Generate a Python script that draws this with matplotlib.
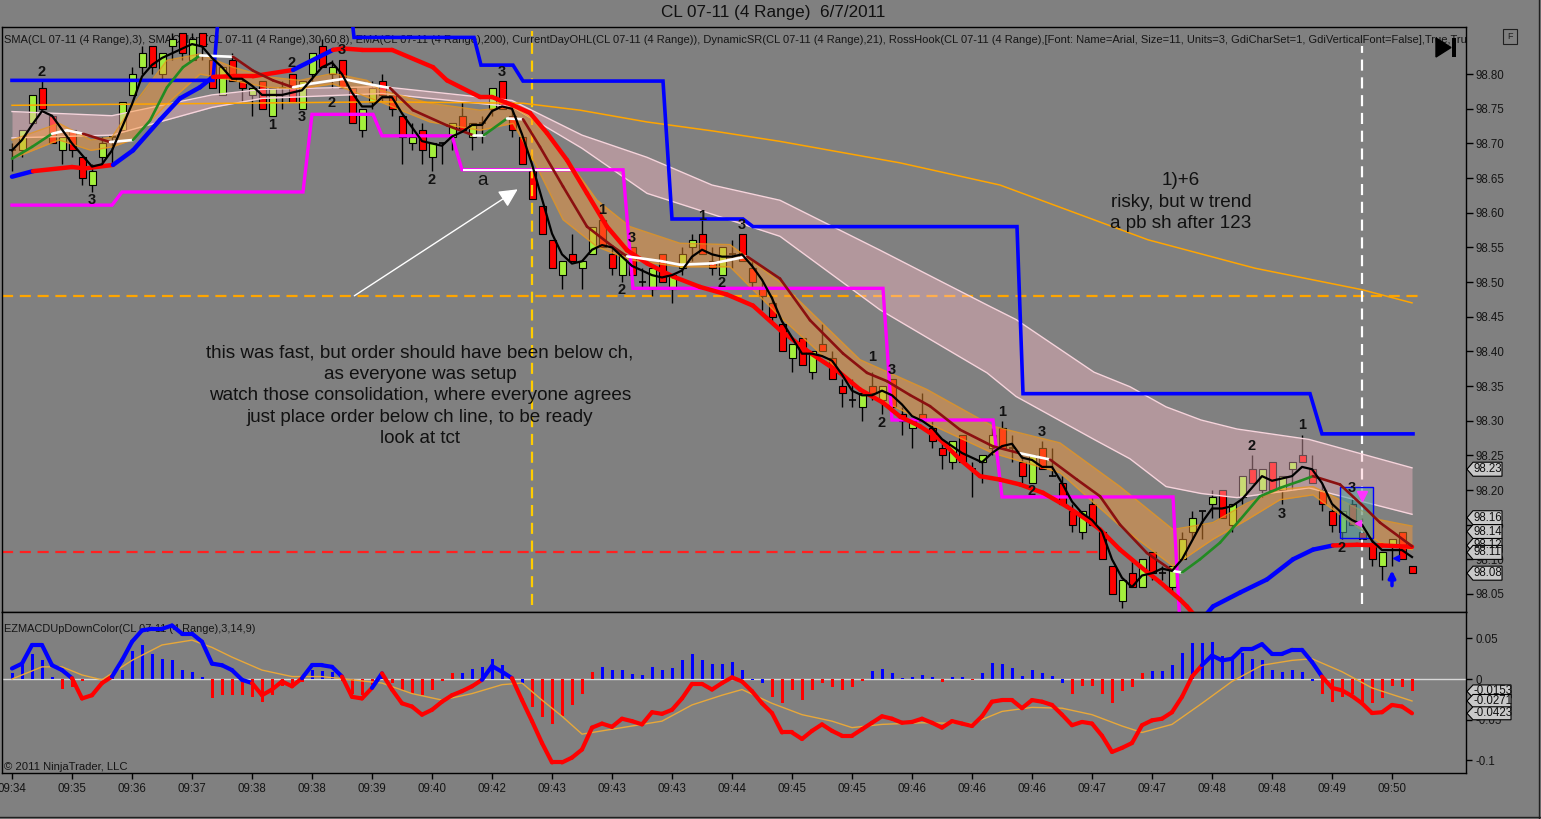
import numpy as np
import pandas as pd
import matplotlib
matplotlib.use("Agg")
import matplotlib.pyplot as plt
import matplotlib.transforms as mtransforms
from matplotlib.collections import LineCollection
from matplotlib.patches import Polygon, Rectangle
from matplotlib.lines import Line2D

plt.rcParams['font.family'] = ['Liberation Sans', 'DejaVu Sans']

# ---- price bars (4 range) ----
opens = [98.69, 98.69, 98.73, 98.78, 98.74, 98.69, 98.72, 98.68, 98.64, 98.68,
         98.71, 98.72, 98.77, 98.81, 98.84, 98.80, 98.84, 98.86, 98.82, 98.86,
         98.82, 98.77, 98.82, 98.79, 98.77, 98.79, 98.74, 98.78, 98.80, 98.75,
         98.80, 98.84, 98.80, 98.82, 98.78, 98.72, 98.76, 98.79, 98.77, 98.74,
         98.70, 98.72, 98.68, 98.70, 98.71, 98.74, 98.71, 98.73, 98.75, 98.79,
         98.74, 98.71, 98.66, 98.61, 98.56, 98.51, 98.54, 98.52, 98.54, 98.59,
         98.54, 98.51, 98.55, 98.50, 98.49, 98.54, 98.49, 98.52, 98.55, 98.57,
         98.53, 98.51, 98.54, 98.57, 98.52, 98.49, 98.47, 98.44, 98.39, 98.42,
         98.37, 98.41, 98.39, 98.35, 98.33, 98.32, 98.35, 98.33, 98.36, 98.31,
         98.29, 98.31, 98.29, 98.26, 98.24, 98.28, 98.23, 98.24, 98.26, 98.29,
         98.26, 98.24, 98.21, 98.26, 98.22, 98.21, 98.17, 98.14, 98.18, 98.14,
         98.09, 98.04, 98.08, 98.06, 98.11, 98.08, 98.06, 98.10, 98.14, 98.17,
         98.18, 98.20, 98.15, 98.19, 98.23, 98.20, 98.24, 98.20, 98.23, 98.25,
         98.23, 98.20, 98.17, 98.14, 98.18, 98.14, 98.12, 98.09, 98.12, 98.14,
         98.09]
closes = [98.69, 98.72, 98.77, 98.75, 98.70, 98.71, 98.69, 98.65, 98.66, 98.70,
          98.71, 98.76, 98.80, 98.83, 98.81, 98.83, 98.85, 98.83, 98.85, 98.84,
          98.78, 98.81, 98.79, 98.78, 98.78, 98.75, 98.78, 98.78, 98.76, 98.79,
          98.83, 98.81, 98.81, 98.78, 98.73, 98.75, 98.78, 98.77, 98.75, 98.71,
          98.71, 98.69, 98.70, 98.70, 98.73, 98.72, 98.73, 98.73, 98.78, 98.75,
          98.72, 98.67, 98.62, 98.57, 98.52, 98.53, 98.53, 98.53, 98.58, 98.55,
          98.52, 98.54, 98.51, 98.50, 98.52, 98.50, 98.51, 98.54, 98.56, 98.54,
          98.52, 98.55, 98.54, 98.53, 98.50, 98.48, 98.45, 98.40, 98.41, 98.38,
          98.40, 98.40, 98.36, 98.34, 98.33, 98.34, 98.34, 98.35, 98.32, 98.30,
          98.30, 98.30, 98.27, 98.25, 98.27, 98.24, 98.23, 98.25, 98.28, 98.26,
          98.26, 98.22, 98.25, 98.23, 98.22, 98.18, 98.15, 98.17, 98.15, 98.10,
          98.05, 98.07, 98.06, 98.10, 98.08, 98.08, 98.09, 98.13, 98.16, 98.17,
          98.19, 98.16, 98.18, 98.22, 98.21, 98.23, 98.20, 98.22, 98.24, 98.24,
          98.21, 98.18, 98.15, 98.17, 98.15, 98.13, 98.10, 98.11, 98.13, 98.10,
          98.08]
highs = [98.70, 98.72, 98.77, 98.79, 98.74, 98.71, 98.72, 98.68, 98.67, 98.71,
         98.71, 98.76, 98.81, 98.84, 98.84, 98.83, 98.86, 98.86, 98.86, 98.86,
         98.82, 98.81, 98.83, 98.80, 98.78, 98.79, 98.78, 98.79, 98.80, 98.79,
         98.83, 98.85, 98.82, 98.82, 98.78, 98.75, 98.79, 98.80, 98.78, 98.74,
         98.73, 98.73, 98.70, 98.70, 98.73, 98.76, 98.73, 98.74, 98.78, 98.79,
         98.75, 98.71, 98.66, 98.61, 98.56, 98.53, 98.57, 98.53, 98.58, 98.59,
         98.55, 98.54, 98.55, 98.52, 98.52, 98.54, 98.51, 98.55, 98.57, 98.59,
         98.55, 98.55, 98.56, 98.57, 98.53, 98.50, 98.48, 98.44, 98.41, 98.42,
         98.40, 98.44, 98.40, 98.36, 98.36, 98.34, 98.37, 98.35, 98.36, 98.32,
         98.30, 98.34, 98.30, 98.27, 98.27, 98.28, 98.24, 98.25, 98.29, 98.30,
         98.28, 98.25, 98.25, 98.27, 98.26, 98.22, 98.18, 98.17, 98.19, 98.14,
         98.09, 98.07, 98.10, 98.10, 98.11, 98.09, 98.09, 98.14, 98.17, 98.17,
         98.20, 98.20, 98.18, 98.22, 98.25, 98.23, 98.24, 98.22, 98.24, 98.28,
         98.25, 98.21, 98.18, 98.17, 98.19, 98.16, 98.13, 98.11, 98.13, 98.14,
         98.09]
lows = [98.66, 98.68, 98.73, 98.75, 98.70, 98.67, 98.68, 98.64, 98.63, 98.67,
        98.67, 98.72, 98.77, 98.80, 98.80, 98.79, 98.82, 98.82, 98.82, 98.82,
        98.78, 98.77, 98.79, 98.76, 98.74, 98.75, 98.74, 98.75, 98.76, 98.75,
        98.79, 98.81, 98.78, 98.78, 98.73, 98.71, 98.75, 98.76, 98.74, 98.67,
        98.69, 98.67, 98.66, 98.67, 98.69, 98.72, 98.69, 98.70, 98.74, 98.75,
        98.71, 98.67, 98.62, 98.57, 98.52, 98.49, 98.53, 98.49, 98.54, 98.55,
        98.51, 98.50, 98.51, 98.49, 98.48, 98.50, 98.47, 98.51, 98.53, 98.54,
        98.51, 98.51, 98.52, 98.53, 98.49, 98.46, 98.44, 98.40, 98.37, 98.38,
        98.36, 98.40, 98.36, 98.32, 98.32, 98.30, 98.33, 98.31, 98.32, 98.28,
        98.26, 98.30, 98.26, 98.23, 98.23, 98.24, 98.19, 98.21, 98.25, 98.26,
        98.24, 98.21, 98.21, 98.23, 98.22, 98.18, 98.14, 98.13, 98.15, 98.10,
        98.05, 98.03, 98.06, 98.06, 98.07, 98.07, 98.05, 98.10, 98.13, 98.13,
        98.16, 98.16, 98.14, 98.18, 98.21, 98.19, 98.20, 98.18, 98.20, 98.24,
        98.21, 98.17, 98.14, 98.13, 98.15, 98.12, 98.09, 98.07, 98.09, 98.10,
        98.08]

tick_labels = ['09:34', '09:35', '09:36', '09:37', '09:38', '09:38', '09:39', '09:40',
               '09:42', '09:43', '09:43', '09:43', '09:44', '09:45', '09:45', '09:46',
               '09:46', '09:46', '09:47', '09:47', '09:48', '09:48', '09:49', '09:50']

# ---- indicators (bar index, price) ----
thick_bars = [0, 2.1, 6, 7.3, 10.1, 12.1, 14.8, 16.8, 18.8, 20.1, 22.1, 24.1, 28.1, 32.1, 33.1,
              35, 38, 42.1, 43.5, 46.8, 48, 50.1, 51.8, 53.5, 55.5, 57.5, 59.5, 61.5, 63.5, 66.1,
              68.8, 71.5, 74.1, 76.8, 79.8, 82.8, 84.8, 87.1, 88.8, 90.8, 92.8, 94.8, 96.8, 98.8,
              100.8, 103.1, 105.5, 107.5, 108.8, 110.8, 112.8, 114.8, 116.8, 117.5, 118.8, 120.1,
              122.8, 125.5, 128.1, 130.1, 132.1, 134.5, 137, 140]
thick_vals = [98.652, 98.660, 98.666, 98.664, 98.669, 98.690, 98.734, 98.765, 98.781, 98.796,
              98.797, 98.797, 98.806, 98.835, 98.837, 98.835, 98.835, 98.810, 98.791, 98.767,
              98.767, 98.755, 98.744, 98.715, 98.676, 98.628, 98.580, 98.546, 98.527, 98.508,
              98.493, 98.482, 98.466, 98.431, 98.398, 98.369, 98.345, 98.326, 98.306, 98.292,
              98.273, 98.244, 98.220, 98.215, 98.208, 98.196, 98.176, 98.157, 98.143, 98.114,
              98.090, 98.067, 98.042, 98.032, 98.010, 98.032, 98.052, 98.071, 98.100, 98.114,
              98.120, 98.121, 98.120, 98.118]

mg_bars = [0, 2, 4, 5.5, 7.1, 9.8, 12.1, 13.8, 15.5, 17.1, 18.8, 22.1, 24.1, 26.1, 28.1, 29.8,
           32.1, 33.1, 35.5, 37.8, 40.1, 43.5, 46.1, 47.2, 49.5, 51.1, 52.8, 55.1, 57.5, 60.1,
           61.5, 65, 66.8, 70.1, 73.5, 76.8, 79.8, 83.1, 85.5, 87.5, 89.8, 91.8, 94.8, 98.1,
           100.8, 103.8, 106.5, 108.8, 110.8, 113.5, 116.1, 117, 118.8, 120.8, 122.8, 124.8,
           126.8, 128.8, 130.1, 132.8, 135.1, 136.8, 140]
mg_vals = [98.678, 98.695, 98.714, 98.719, 98.714, 98.702, 98.705, 98.733, 98.781, 98.810,
           98.827, 98.825, 98.805, 98.791, 98.781, 98.786, 98.791, 98.793, 98.786, 98.780,
           98.748, 98.726, 98.712, 98.712, 98.736, 98.735, 98.695, 98.638, 98.580, 98.551,
           98.537, 98.530, 98.525, 98.527, 98.537, 98.505, 98.445, 98.397, 98.369, 98.357,
           98.337, 98.321, 98.287, 98.263, 98.253, 98.244, 98.215, 98.191, 98.150, 98.109,
           98.083, 98.081, 98.100, 98.124, 98.157, 98.191, 98.203, 98.213, 98.220, 98.208,
           98.177, 98.153, 98.119]

orange_bars = [0, 4.7, 7.9, 10, 12, 15.5, 18.8, 22.1, 25.5, 28.8, 32.1, 35.5, 36.8, 41.8, 46.8,
               50.1, 51.8, 55.1, 58.5, 61.8, 66.8, 71.8, 76.8, 84.8, 91.5, 98.1, 104.8, 110.8,
               116.1, 120.1, 123.5, 126.8, 130.1, 133.5, 136.8, 140]
orange_top = [98.705, 98.729, 98.705, 98.709, 98.753, 98.820, 98.829, 98.810, 98.796, 98.791,
              98.801, 98.791, 98.777, 98.758, 98.748, 98.753, 98.738, 98.686, 98.618, 98.580,
              98.556, 98.554, 98.500, 98.388, 98.345, 98.292, 98.268, 98.205, 98.143, 98.153,
              98.181, 98.201, 98.205, 98.181, 98.157, 98.148]
orange_bot = [98.678, 98.705, 98.690, 98.695, 98.705, 98.757, 98.800, 98.791, 98.781, 98.779,
              98.786, 98.767, 98.760, 98.731, 98.719, 98.729, 98.686, 98.590, 98.551, 98.532,
              98.522, 98.522, 98.450, 98.345, 98.297, 98.253, 98.225, 98.148, 98.090, 98.129,
              98.157, 98.186, 98.193, 98.157, 98.124, 98.114]

pink_bars = [0, 10, 20, 25, 37, 50, 57, 63.5, 70, 76.8, 86.8, 97.5, 100.4, 108.2, 111.8, 115.4,
             118.9, 122.5, 129.7, 140]
pink_top = [98.746, 98.740, 98.770, 98.778, 98.782, 98.762, 98.712, 98.680, 98.640, 98.618,
            98.546, 98.467, 98.446, 98.370, 98.349, 98.320, 98.301, 98.288, 98.273, 98.232]
pink_bot = [98.708, 98.712, 98.752, 98.765, 98.772, 98.753, 98.693, 98.628, 98.598, 98.566,
            98.460, 98.369, 98.335, 98.273, 98.245, 98.205, 98.195, 98.189, 98.203, 98.165]

ema_bars = [0, 36.8, 51.1, 56.8, 63.5, 70.1, 76.8, 88.8, 98.8, 113.6, 124.3, 135, 140]
ema_vals = [98.755, 98.760, 98.758, 98.748, 98.731, 98.718, 98.703, 98.672, 98.640, 98.561,
            98.520, 98.489, 98.470]

res_bars = [0, 20.1, 21.0, 33.5, 34.2, 46.2, 46.9, 50.1, 51.1, 65.1, 66.0, 73.1, 74.1, 100.5,
            101.1, 129.8, 131.0, 140.1]
res_vals = [98.791, 98.791, 98.95, 98.95, 98.853, 98.853, 98.813, 98.813, 98.790, 98.790,
            98.591, 98.591, 98.580, 98.580, 98.339, 98.339, 98.281, 98.281]

sup_bars = [0, 10, 11, 29.1, 30, 36.1, 37, 44, 45, 61.1, 62.1, 87.1, 88, 98.1, 99, 116.1, 117]
sup_vals = [98.611, 98.611, 98.630, 98.630, 98.742, 98.742, 98.711, 98.711, 98.662, 98.662,
            98.491, 98.491, 98.301, 98.301, 98.190, 98.190, 97.95]

day_open = 98.48
day_low = 98.11

hook_text = ['2', '3', '1', '2', '3', '2', '3', '2', '3', '1', '3', '2', '1', '3', '2',
             '1', '3', '2', '1', '3', '2', '2', '1', '3', '3', '2']
hook_bars = [3, 8, 26, 28, 29, 32, 33, 42, 49, 59, 62, 61, 69, 73, 71, 86, 88, 87, 99, 103, 102,
             124, 129, 127, 134, 133]
hook_prices = [98.803, 98.618, 98.727, 98.816, 98.738, 98.758, 98.835, 98.647, 98.803, 98.604,
               98.564, 98.489, 98.595, 98.582, 98.499, 98.392, 98.373, 98.297, 98.313, 98.284,
               98.198, 98.264, 98.294, 98.166, 98.203, 98.116]

price_tags = [98.23, 98.16, 98.14, 98.12, 98.11, 98.08]

# ---- MACD panel ----
macd = [0.013, 0.019, 0.042, 0.042, 0.017, 0.011, 0.001, -0.024, -0.020, -0.005,
        0.003, 0.023, 0.046, 0.060, 0.062, 0.062, 0.066, 0.056, 0.056, 0.046,
        0.019, 0.017, 0.011, -0.001, -0.005, -0.020, -0.013, -0.003, -0.009, 0.001,
        0.017, 0.017, 0.015, 0.003, -0.022, -0.024, -0.011, 0.007, -0.013, -0.030,
        -0.034, -0.044, -0.038, -0.028, -0.020, -0.015, -0.009, -0.001, 0.016, 0.009,
        0.001, -0.026, -0.052, -0.079, -0.103, -0.103, -0.097, -0.087, -0.060, -0.055,
        -0.059, -0.049, -0.052, -0.056, -0.041, -0.043, -0.038, -0.024, -0.006, -0.006,
        -0.013, -0.005, 0.002, -0.003, -0.015, -0.030, -0.042, -0.066, -0.066, -0.074,
        -0.064, -0.056, -0.064, -0.070, -0.070, -0.062, -0.054, -0.046, -0.049, -0.054,
        -0.053, -0.049, -0.054, -0.060, -0.052, -0.055, -0.058, -0.046, -0.028, -0.026,
        -0.026, -0.036, -0.026, -0.028, -0.032, -0.044, -0.057, -0.053, -0.055, -0.070,
        -0.090, -0.085, -0.079, -0.057, -0.051, -0.049, -0.041, -0.022, 0.003, 0.017,
        0.029, 0.023, 0.025, 0.037, 0.037, 0.043, 0.031, 0.031, 0.036, 0.036,
        0.021, 0.003, -0.011, -0.014, -0.021, -0.030, -0.042, -0.041, -0.032, -0.034,
        -0.0423]
macd_up_spans = [(0, 6), (10, 24), (29, 33), (36, 37), (47, 50), (119, 131)]

signal_bars = [0, 3, 5, 7, 9, 12, 15, 18, 20, 22, 25, 28, 31, 34, 37, 40, 43, 46, 49, 51, 53,
               55, 57, 59, 62, 65, 68, 71, 73, 76, 79, 82, 84, 87, 91, 96, 99, 102, 105, 108,
               111, 113, 116, 119, 122, 125, 128, 130, 133, 136, 140]
signal_vals = [0.0, 0.015, 0.015, 0.005, -0.001, 0.023, 0.042, 0.048, 0.039, 0.027, 0.011,
               0.003, 0.003, -0.001, -0.005, -0.018, -0.026, -0.018, -0.007, -0.005, -0.026,
               -0.046, -0.068, -0.064, -0.058, -0.052, -0.032, -0.020, -0.013, -0.030, -0.044,
               -0.052, -0.060, -0.056, -0.054, -0.055, -0.040, -0.035, -0.036, -0.044, -0.058,
               -0.066, -0.056, -0.030, -0.003, 0.017, 0.023, 0.025, 0.009, -0.011, -0.0271]

hist = [0.008, 0.017, 0.031, 0.024, 0.003, -0.012, -0.010, -0.003, 0.0, 0.0,
        0.002, 0.011, 0.035, 0.042, 0.031, 0.025, 0.023, 0.011, 0.009, 0.002,
        -0.024, -0.020, -0.020, -0.020, -0.022, -0.028, -0.020, -0.009, -0.009, -0.004,
        0.011, 0.010, 0.009, -0.002, -0.018, -0.020, -0.008, 0.009, -0.005, -0.013,
        -0.018, -0.020, -0.013, -0.003, 0.008, 0.008, 0.012, 0.015, 0.025, 0.017,
        0.002, -0.005, -0.034, -0.047, -0.056, -0.046, -0.032, -0.018, 0.009, 0.015,
        0.011, 0.011, 0.006, 0.005, 0.015, 0.011, 0.013, 0.023, 0.031, 0.024,
        0.019, 0.018, 0.021, 0.011, -0.001, -0.005, -0.022, -0.030, -0.013, -0.026,
        -0.014, -0.005, -0.010, -0.013, -0.010, -0.002, 0.010, 0.012, 0.007, 0.001,
        0.002, 0.005, 0.002, -0.004, 0.002, 0.002, -0.001, 0.007, 0.020, 0.018,
        0.014, 0.004, 0.011, 0.007, 0.004, -0.005, -0.018, -0.009, -0.009, -0.018,
        -0.030, -0.015, -0.010, 0.008, 0.010, 0.010, 0.017, 0.032, 0.044, 0.044,
        0.046, 0.029, 0.025, 0.032, 0.025, 0.024, 0.011, 0.009, 0.011, 0.009,
        -0.003, -0.018, -0.028, -0.022, -0.018, -0.028, -0.030, -0.024, -0.009, -0.010,
        -0.0153]
hist_red_above = [44, 58, 113]
hist_blue_below = [51, 74, 75, 105, 130]
macd_tags = [-0.0153, -0.0271, -0.0423]

W, H = 1541, 819
BG = '#808080'
GREEN = '#a4f03c'
BLUE = '#0000ff'
RED = '#ff0000'


def colored_line(ax, xs, ys, colors, lw, z):
    pts = np.column_stack([xs, ys])
    segs = np.stack([pts[:-1], pts[1:]], axis=1)
    lc = LineCollection(segs, colors=colors, linewidths=lw, zorder=z,
                        capstyle='round', joinstyle='round')
    ax.add_collection(lc)


def value_tag(ax, val, text, h, w_px, ax_w=1464):
    tr = mtransforms.blended_transform_factory(ax.transAxes, ax.transData)
    x0, x1, x2 = 1 + 1 / ax_w, 1 + 7 / ax_w, 1 + w_px / ax_w
    poly = Polygon([(x0, val), (x1, val + h / 2), (x2, val + h / 2), (x2, val - h / 2),
                    (x1, val - h / 2)], closed=True, transform=tr, facecolor='#c8c8c8',
                   edgecolor='black', lw=0.8, clip_on=False, zorder=10)
    ax.add_artist(poly)
    ax.text(1 + 8 / ax_w, val, text, transform=tr, fontsize=8.3, va='center', ha='left',
            color='#101010', clip_on=False, zorder=11)


fig = plt.figure(figsize=(W / 100, H / 100), dpi=100, facecolor=BG)
ax = fig.add_axes([2 / W, (H - 612) / H, 1464 / W, 585 / H], facecolor=BG)
ax2 = fig.add_axes([2 / W, (H - 773) / H, 1464 / W, 161 / H], facecolor=BG)

x = np.arange(len(closes))
o = np.array(opens)
c = np.array(closes)
hi = np.array(highs)
lo = np.array(lows)
flat = np.isclose(o, c)
up = (c > o) & ~flat
dn = (c < o) & ~flat

# candles
ax.vlines(x, lo, hi, color='black', lw=1, zorder=2)
ax.bar(x[up], (c - o)[up], bottom=o[up], width=0.7, color=GREEN, edgecolor='black',
       lw=0.8, zorder=2.1)
ax.bar(x[dn], (o - c)[dn], bottom=c[dn], width=0.7, color=RED, edgecolor='black',
       lw=0.8, zorder=2.1)
ax.hlines(c[flat], x[flat] - 0.35, x[flat] + 0.35, color='black', lw=1.2, zorder=2.1)

# day open / low, vertical markers
ax.hlines(day_open, -1, 140.6, colors='#ffa500', linestyles=(0, (5, 3)), lw=1.6, zorder=1.5)
ax.hlines(day_low, -1, 108.6, colors='#ff2020', linestyles=(0, (5, 3)), lw=1.6, zorder=1.5)
ax.vlines(52, 98.034, 98.862, colors='#ffcc00', linestyles=(0, (5, 3)), lw=1.6, zorder=2.3)
ax.vlines(135, 98.035, 98.84, colors='white', linestyles=(0, (5, 3)), lw=1.6, zorder=2.3)

# bands
ax.fill_between(pink_bars, pink_bot, pink_top, color='#ffbcc8', alpha=0.4, lw=0, zorder=2.5)
ax.plot(pink_bars, pink_top, color='#f6d4dc', lw=1, zorder=2.6)
ax.plot(pink_bars, pink_bot, color='#f6d4dc', lw=1, zorder=2.6)
ax.fill_between(orange_bars, orange_bot, orange_top, color='#ff9933', alpha=0.45, lw=0,
                zorder=2.7)
ax.plot(orange_bars, orange_top, color='#e8961e', lw=1, alpha=0.8, zorder=2.8)
ax.plot(orange_bars, orange_bot, color='#e8961e', lw=1, alpha=0.8, zorder=2.8)
ax.plot(ema_bars, ema_vals, color='#ffa500', lw=1.1, zorder=2.9)

# support / resistance steps
ax.plot(res_bars, res_vals, color=BLUE, lw=2.6, zorder=3.2, solid_joinstyle='miter')
ax.plot(sup_bars, sup_vals, color='#ff00ff', lw=2.4, zorder=3.1, solid_joinstyle='miter')
ax.hlines(98.662, 45.1, 56, colors='white', lw=1.5, zorder=3.15)

# coloured moving averages
tb = np.array(thick_bars)
tv = np.array(thick_vals)
slope = np.diff(tv) / np.diff(tb)
colored_line(ax, tb, tv, [BLUE if s > 0.0025 else RED for s in slope], 3.2, 3.4)

mb = np.array(mg_bars)
mv = np.array(mg_vals)
slope = np.diff(mv) / np.diff(mb)
mcol = ['#228b22' if s > 0.0035 else ('#8b1010' if s < -0.0035 else 'white') for s in slope]
colored_line(ax, mb, mv, mcol, 1.9, 3.5)

sma3 = pd.Series(closes).rolling(3, min_periods=1).mean()
ax.plot(x, sma3, color='black', lw=1.6, zorder=3.6)

# RossHook labels
for t, b, p in zip(hook_text, hook_bars, hook_prices):
    ax.text(b, p, t, fontsize=10.5, fontweight='bold', color='#111111', ha='center',
            va='center', zorder=4)
ax.text(47, 98.647, 'a', fontsize=13.5, color='#111111', ha='center', va='center', zorder=4)

# annotation arrow
ax.annotate('', xy=(50.8, 98.636), xytext=(34, 98.478),
            arrowprops=dict(arrowstyle='-|>', color='white', lw=1, mutation_scale=28),
            zorder=4)

# boxes / markers near the end
ax.add_patch(Rectangle((132.8, 98.131), 3.3, 0.074, facecolor=(0.3, 0.62, 0.62, 0.55),
                       edgecolor=BLUE, lw=1, zorder=3.3))
ax.plot([135], [98.192], marker='v', color='#ff33ff', ms=7, zorder=4)
ax.plot([134.6], [98.152], marker='<', color='#ff33ff', ms=4, zorder=4)
ax.annotate('', xy=(138, 98.088), xytext=(138, 98.058),
            arrowprops=dict(arrowstyle='-|>', color=BLUE, lw=2.5, mutation_scale=10), zorder=4)
ax.plot([138.4], [98.102], marker='<', color=BLUE, ms=5, zorder=4)

# comment texts
ax.text(40.8, 98.336, 'this was fast, but order should have been below ch,\n'
        'as everyone was setup\nwatch those consolidation, where everyone agrees\n'
        'just place order below ch line, to be ready\nlook at tct',
        fontsize=13.6, color='#111111', ha='center', va='center', linespacing=1.34, zorder=4)
ax.text(116.9, 98.615, '1)+6\nrisky, but w trend\na pb sh after 123', fontsize=13.6,
        color='#111111', ha='center', va='center', linespacing=1.34, zorder=4)

ax.text(2 / 1464, 1 - 13 / 585,
        'SMA(CL 07-11 (4 Range),3), SMAColors(CL 07-11 (4 Range),30,60,8), '
        'EMA(CL 07-11 (4 Range),200), CurrentDayOHL(CL 07-11 (4 Range)), '
        'DynamicSR(CL 07-11 (4 Range),21), RossHook(CL 07-11 (4 Range),[Font: Name=Arial, '
        'Size=11, Units=3, GdiCharSet=1, GdiVerticalFont=False],True,True,True',
        transform=ax.transAxes, fontsize=8.0, color='#151515', ha='left', va='center',
        clip_on=True, zorder=1)

ax.set_xlim(-1.0, 145.4)
ax.set_ylim(98.024, 98.868)
ax.set_xticks([])
ax.yaxis.tick_right()
yt = np.round(np.arange(98.05, 98.801, 0.05), 2)
ax.set_yticks(yt)
ax.set_yticklabels([f'{v:.2f}' for v in yt])
ax.tick_params(axis='y', direction='out', length=5, width=1, colors='black', labelsize=8.3,
               pad=2, labelcolor='#151515')
for s in ax.spines.values():
    s.set_color('black')
    s.set_linewidth(1)

for v in price_tags:
    value_tag(ax, v, f'{v:.2f}', 0.0202, 36)

# ---- MACD ----
hcol = [BLUE if v > 0 else RED for v in hist]
for i in hist_red_above:
    hcol[i] = RED
for i in hist_blue_below:
    hcol[i] = BLUE
ax2.axhline(0, color='#d8d8d8', lw=1, zorder=1)
ax2.bar(x, hist, width=0.3, color=hcol, zorder=2)
ax2.plot(signal_bars, signal_vals, color='#e8a83a', lw=1, zorder=3)
mc = []
for i in range(len(macd) - 1):
    mc.append(BLUE if any(a <= i < b for a, b in macd_up_spans) else RED)
colored_line(ax2, x, np.array(macd), mc, 3, 4)

ax2.text(2 / 1464, 1 - 17 / 161, 'EZMACDUpDownColor(CL 07-11 (4 Range),3,14,9)',
         transform=ax2.transAxes, fontsize=7.9, color='#151515', ha='left', va='center',
         zorder=1)
ax2.text(2 / 1464, 1 - 155 / 161, '\u00a9 2011 NinjaTrader, LLC', transform=ax2.transAxes,
         fontsize=8.1, color='#151515', ha='left', va='center', zorder=1)

ax2.set_xlim(-1.0, 145.4)
ax2.set_ylim(-0.116, 0.0827)
ax2.yaxis.tick_right()
ax2.set_yticks([0.05, 0, -0.05, -0.1])
ax2.set_yticklabels(['0.05', '0', '-0.05', '-0.1'])
ax2.set_xticks(list(range(0, 139, 6)))
ax2.set_xticklabels(tick_labels)
ax2.tick_params(axis='both', direction='out', length=4, width=1, colors='black',
                labelsize=8.3, pad=3, labelcolor='#151515')
for s in ax2.spines.values():
    s.set_color('black')
    s.set_linewidth(1)

for v in macd_tags:
    value_tag(ax2, v, f'{v:.4f}', 0.016, 45)

# ---- window chrome ----
fig.text(773 / W, 1 - 12 / H, 'CL 07-11 (4 Range)  6/7/2011', fontsize=12.3, color='#101010',
         ha='center', va='center')


def fx(px):
    return px / W


def fy(py):
    return 1 - py / H


fig.add_artist(Polygon([(fx(1436), fy(38)), (fx(1436), fy(57)), (fx(1451), fy(47.5))],
                       closed=True, facecolor='black', edgecolor='black',
                       transform=fig.transFigure))
fig.add_artist(Rectangle((fx(1452), fy(57)), fx(4), 19 / H, facecolor='black',
                         transform=fig.transFigure))
fig.add_artist(Rectangle((fx(1503), fy(44)), fx(14), 15 / H, facecolor='none',
                         edgecolor='#202020', lw=0.8, transform=fig.transFigure))
fig.text(fx(1510), fy(36.5), 'F', fontsize=6.5, color='#202020', ha='center', va='center')
fig.add_artist(Line2D([fx(1539), fx(1539)], [0, 1], color='#202020', lw=1,
                      transform=fig.transFigure))
fig.add_artist(Line2D([0, 1], [fy(817), fy(817)], color='#202020', lw=1,
                      transform=fig.transFigure))

fig.savefig('out.png', dpi=100, facecolor=fig.get_facecolor())
